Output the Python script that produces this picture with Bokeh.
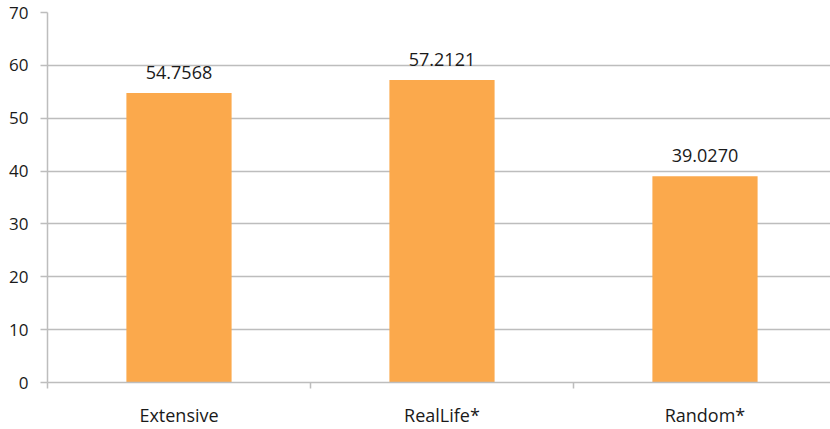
from bokeh.plotting import figure
from bokeh.models import ColumnDataSource, Range1d, FixedTicker
from bokeh.core.properties import value
from bokeh.embed import file_html
from bokeh.resources import INLINE

categories = ["Extensive", "RealLife*", "Random*"]
scores = [54.7568, 57.2121, 39.0270]
score_labels = ["54.7568", "57.2121", "39.0270"]
y_ticks = [0, 10, 20, 30, 40, 50, 60, 70]

xs = [i + 0.5 for i in range(len(categories))]
src = ColumnDataSource(dict(x=xs, y=scores, lab=score_labels, cat=categories))

p = figure(width=830, height=429, output_backend="svg", toolbar_location=None,
           x_range=Range1d(0, 783 / 263), y_range=Range1d(0, 70),
           min_border_left=47, min_border_right=0, min_border_top=12, min_border_bottom=43)
p.outline_line_color = None
p.background_fill_color = "white"
p.border_fill_color = "white"

p.vbar(x="x", top="y", width=0.4, bottom=0, source=src, color="#FBA94C", line_color=None)
p.text(x="x", y="y", text="lab", source=src, text_align="center", text_baseline="alphabetic",
       y_offset=-21, text_font=value("Open Sans"), text_font_size="18px", text_color="#1a1a1a")

p.xgrid.grid_line_color = None
p.ygrid.grid_line_color = "#BDBDBD"
p.ygrid.grid_line_width = 1.5
p.ygrid.ticker = FixedTicker(ticks=y_ticks)

p.yaxis.ticker = FixedTicker(ticks=y_ticks)
p.yaxis.axis_line_color = "#BDBDBD"
p.yaxis.axis_line_width = 1.5
p.yaxis.major_tick_line_color = "#BDBDBD"
p.yaxis.major_tick_line_width = 1.5
p.yaxis.major_tick_out = 7
p.yaxis.major_tick_in = 0
p.yaxis.minor_tick_line_color = None
p.yaxis.major_label_standoff = 12
p.yaxis.major_label_text_font = "Open Sans"
p.yaxis.major_label_text_font_size = "17px"
p.yaxis.major_label_text_color = "#1a1a1a"

p.xaxis.ticker = FixedTicker(ticks=xs, minor_ticks=[0, 1, 2, 3])
p.xaxis.major_label_overrides = {x: c for x, c in zip(xs, categories)}
p.xaxis.axis_line_color = "#BDBDBD"
p.xaxis.axis_line_width = 1.5
p.xaxis.major_tick_line_color = None
p.xaxis.minor_tick_line_color = "#BDBDBD"
p.xaxis.minor_tick_line_width = 1.5
p.xaxis.minor_tick_out = 6
p.xaxis.minor_tick_in = 0
p.xaxis.major_label_standoff = 14
p.xaxis.major_label_text_font = "Open Sans"
p.xaxis.major_label_text_font_size = "18px"
p.xaxis.major_label_text_color = "#1a1a1a"

open("out.html", "w").write(file_html(p, INLINE))
